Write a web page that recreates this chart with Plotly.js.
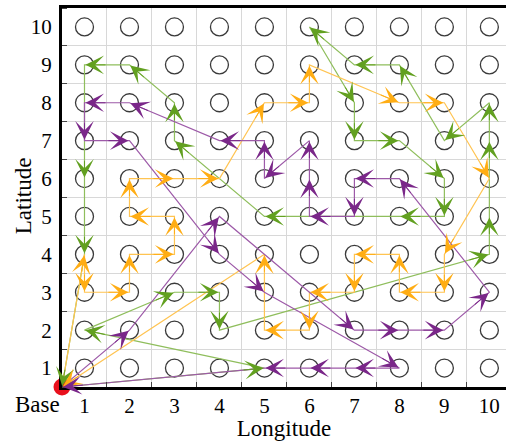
<!DOCTYPE html>
<html>
<head>
<meta charset="utf-8">
<script src="https://cdn.plot.ly/plotly-3.0.1.min.js"></script>
<style>html,body{margin:0;padding:0;background:#fff;}#chart{width:506px;height:441px;}</style>
</head>
<body>
<div id="chart"></div>
<script>
// Grid categories
const longitudes = [1, 2, 3, 4, 5, 6, 7, 8, 9, 10];
const latitudes = [1, 2, 3, 4, 5, 6, 7, 8, 9, 10];
const tickLabels = ['1', '2', '3', '4', '5', '6', '7', '8', '9', '10'];

// Base (depot)
const baseX = 0.5;
const baseY = 0.5;

// Routes (B = base)
const B = 'B';
const greenRouteX = [B, 5, 1, 3, 4, 4, 10, 10, 10, 10, 9, 8, 7, 6, 7, 7, 8, 9, 9, 8, 5, 3, 3, 2, 1, 1, 1, B];
const greenRouteY = [B, 1, 2, 3, 3, 2, 4, 5, 7, 8, 7, 9, 9, 10, 8, 7, 7, 6, 5, 5, 5, 7, 8, 9, 9, 6, 4, B];

const orangeRouteX = [B, 1, 1, 2, 2, 3, 3, 2, 2, 3, 4, 5, 6, 6, 8, 9, 10, 9, 9, 8, 8, 7, 7, 6, 6, 5, 5, B];
const orangeRouteY = [B, 4, 3, 3, 4, 4, 5, 5, 6, 6, 6, 8, 8, 9, 8, 8, 6, 4, 3, 3, 4, 4, 3, 3, 2, 2, 4, B];

const purpleRouteX = [B, 2, 4, 7, 8, 9, 10, 8, 7, 7, 6, 6, 6, 5, 5, 4, 2, 1, 1, 2, 4, 5, 8, 7, 6, 5, B];
const purpleRouteY = [B, 2, 5, 2, 2, 2, 3, 6, 6, 5, 5, 6, 7, 6, 7, 7, 8, 8, 7, 7, 4, 3, 1, 1, 1, 1, B];

const routes = [
  {xs: greenRouteX, ys: greenRouteY, head: '#62a020', line: '#8fbe5c'},
  {xs: orangeRouteX, ys: orangeRouteY, head: '#ffad14', line: '#ffc452'},
  {xs: purpleRouteX, ys: purpleRouteY, head: '#7a2789', line: '#9d5aa8'}
];

const px = v => (v === B ? baseX : v);
const py = v => (v === B ? baseY : v);

// Circles at all grid points
const gx = [], gy = [];
latitudes.forEach(la => longitudes.forEach(lo => { gx.push(lo); gy.push(la); }));

const traces = [
  {
    x: gx, y: gy, type: 'scatter', mode: 'markers', hoverinfo: 'skip',
    marker: {symbol: 'circle-open', size: 18, color: '#3a3a3a', line: {width: 1.3}}
  }
];

routes.forEach(r => {
  traces.push({
    x: r.xs.map(px), y: r.ys.map(py), type: 'scatter', mode: 'lines', hoverinfo: 'skip',
    line: {color: r.line, width: 1.2}
  });
});

traces.push({
  x: [baseX], y: [baseY], type: 'scatter', mode: 'markers', cliponaxis: false, hoverinfo: 'skip',
  marker: {symbol: 'circle', size: 17, color: '#e8101c'}
});

// Arrowheads at the end of each leg (tail placed a short way back along the leg)
const annotations = [];
routes.forEach(r => {
  for (let i = 1; i < r.xs.length; i++) {
    const hx = px(r.xs[i]), hy = py(r.ys[i]);
    const tx = px(r.xs[i - 1]), ty = py(r.ys[i - 1]);
    const len = Math.hypot(tx - hx, ty - hy);
    const t = Math.min(1, 0.5 / len);
    annotations.push({
      x: hx, y: hy,
      ax: hx + (tx - hx) * t, ay: hy + (ty - hy) * t,
      xref: 'x', yref: 'y', axref: 'x', ayref: 'y',
      text: '', showarrow: true,
      arrowhead: 3, arrowsize: 3.1, arrowwidth: 1, arrowcolor: r.head,
      standoff: 1
    });
  }
});

const serif = 'Liberation Serif, Times New Roman, serif';

annotations.push({
  x: baseX, y: 0, xref: 'x', yref: 'paper',
  xanchor: 'right', yanchor: 'top', xshift: 0, yshift: -3,
  text: 'Base', showarrow: false,
  font: {family: serif, size: 23, color: '#000'}
});

annotations.push({
  x: -0.085, y: 0.504, xref: 'paper', yref: 'paper',
  xanchor: 'center', yanchor: 'middle', textangle: -90,
  text: 'Latitude', showarrow: false,
  font: {family: serif, size: 23, color: '#000'}
});

const axisCommon = {
  tickmode: 'array',
  tickvals: longitudes,
  ticktext: tickLabels,
  ticks: '',
  showgrid: false,
  zeroline: false,
  showline: true,
  linewidth: 3,
  linecolor: '#000',
  tickfont: {family: serif, size: 21, color: '#000'},
  minor: {
    tickmode: 'linear', tick0: 0.5, dtick: 1,
    ticks: 'inside', ticklen: 5, tickcolor: '#444', tickwidth: 1,
    showgrid: true, gridcolor: '#d8d8d8', gridwidth: 1
  },
  fixedrange: true
};

const layout = {
  width: 506, height: 441,
  margin: {l: 62, r: 0, t: 8, b: 54},
  paper_bgcolor: '#fff', plot_bgcolor: '#fff',
  showlegend: false,
  xaxis: Object.assign({}, axisCommon, {
    range: [0.5, 10.37],
    mirror: true,
    ticklabelstandoff: -2,
    title: {text: 'Longitude', font: {family: serif, size: 23, color: '#000'}, standoff: 5}
  }),
  yaxis: Object.assign({}, axisCommon, {
    range: [0.5, 10.5],
    tickvals: latitudes,
    ticklabelstandoff: 3
  }),
  annotations: annotations
};

Plotly.newPlot('chart', traces, layout, {displayModeBar: false, staticPlot: true});
</script>
</body>
</html>
